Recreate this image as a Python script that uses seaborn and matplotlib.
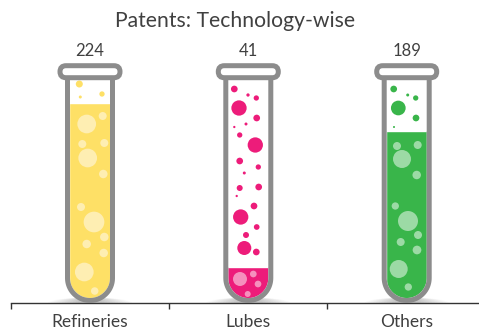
import numpy as np
import pandas as pd
import seaborn as sns
import matplotlib.pyplot as plt
from matplotlib.patches import Ellipse, FancyBboxPatch, PathPatch, Rectangle
from matplotlib.path import Path

# chart data
names = ['Refineries', 'Lubes', 'Others']
values = [224, 41, 189]
fill_levels = [224, 40, 192]  # how far the liquid really reaches in each tube
positions = [90, 248.3, 406.7]
colors = ['#fee066', '#ed1c7a', '#39b54a']
light_colors = ['#feeeb2', '#f590bd', '#9cdaa5']
tick_spots = [11, 169, 327]

# bubbles: x, height above the baseline, diameter (px)
yellow_x = [79.3, 102, 80.3]
yellow_y = [219, 209, 206]
yellow_d = [7, 5.3, 3]
pale_yellow_x = [86.7, 102.7, 82.3, 104.3, 87.7, 103.3, 81, 94, 104.3, 86.7, 103.7, 84.3, 94.7]
pale_yellow_y = [179, 187, 159, 160, 145, 129, 96, 81, 66, 59, 50, 31, 12]
pale_yellow_d = [18.7, 8, 8, 8, 18.7, 8.5, 8, 20.7, 8.5, 8.5, 8.5, 18.7, 7.5]

pink_x = [234.3, 248, 256.3, 239, 256.7, 246, 234.3, 239.7, 255.3, 239.7, 258.3, 244.3, 239.7,
          258.7, 236.7, 254, 240.7, 256.7, 246, 244.3, 256.3]
pink_y = [214, 208, 205, 195, 185, 179, 176, 168, 158, 142, 136, 130, 115, 116, 107, 97, 86,
          76, 68, 55, 51]
pink_d = [6.7, 3.3, 5.3, 15.3, 6.7, 3, 2.3, 5.3, 15.3, 6.7, 5.3, 3, 6, 6.7, 2.3, 6.7, 15.3,
          5.7, 6, 14, 6.7]
pale_pink_x = [240, 253.3, 258, 247.7]
pale_pink_y = [24, 29, 19, 9]
pale_pink_d = [14, 6.7, 6.7, 6]

green_x = [393.7, 407.7, 415.7, 398.3, 416, 394]
green_y = [214, 208, 205, 195, 185, 176]
green_d = [6.7, 3, 5.3, 14.7, 6.7, 2]
pale_green_x = [397, 417.7, 402, 416.7, 395.3, 408, 418, 400.7, 417, 398.7, 408.3]
pale_green_y = [157, 158, 144, 128, 97, 82, 68, 61, 53, 34, 16]
pale_green_d = [8, 8, 18, 8.5, 7.3, 20, 8, 8, 8.7, 18, 7.3]

PX_PER_LEVEL = 0.895
GRAY = '#8c8c8c'
TEXT = '#404040'

sns.set_style('white')
plt.rcParams['font.family'] = ['Lato', 'DejaVu Sans']

fig = plt.figure(figsize=(4.79, 3.31), dpi=100)
ax = fig.add_axes([0, 0, 1, 1])
ax.patch.set_alpha(0)


def tube_path(cx, r, top=223, closed=False):
    # straight sides and a round bottom that sits on the baseline
    t = np.linspace(np.pi, 2 * np.pi, 40)
    xs = np.r_[cx - r, cx + r * np.cos(t), cx + r]
    ys = np.r_[top, 25 + r * np.sin(t), top]
    if closed:
        xs = np.r_[xs, xs[0]]
        ys = np.r_[ys, ys[0]]
    return Path(np.column_stack([xs, ys]))


# liquid
df = pd.DataFrame({'name': names, 'pos': positions, 'height': np.array(fill_levels) * PX_PER_LEVEL})
sns.barplot(data=df, x='pos', y='height', hue='name', palette=colors, native_scale=True,
            width=42 / 158.3, dodge=False, legend=False, saturation=1, ax=ax, zorder=1)
for bar in ax.patches:
    cx = bar.get_x() + bar.get_width() / 2
    bar.set_clip_path(tube_path(cx, 20, closed=True), transform=ax.transData)

# shadows under the tubes, only above the baseline
for cx in positions:
    for w in np.linspace(84, 24, 12):
        e = Ellipse((cx, 0), w, 11, color='black', alpha=0.02, lw=0, zorder=0.5)
        ax.add_patch(e)
        e.set_clip_path(Rectangle((0, 0), 479, 20, transform=ax.transData))

# bubbles
bubble_sets = [
    (yellow_x, yellow_y, yellow_d, colors[0]),
    (pale_yellow_x, pale_yellow_y, pale_yellow_d, light_colors[0]),
    (pink_x, pink_y, pink_d, colors[1]),
    (pale_pink_x, pale_pink_y, pale_pink_d, light_colors[1]),
    (green_x, green_y, green_d, colors[2]),
    (pale_green_x, pale_green_y, pale_green_d, light_colors[2]),
]
for bx, by, bd, c in bubble_sets:
    sns.scatterplot(x=bx, y=by, s=(np.array(bd) * 0.72) ** 2, color=c, linewidth=0, alpha=1,
                    legend=False, ax=ax, zorder=2)

# glass
for cx, name, val in zip(positions, names, values):
    ax.add_patch(PathPatch(tube_path(cx, 22.5), fill=False, edgecolor=GRAY, lw=3.6, zorder=3))
    ax.add_patch(FancyBboxPatch((cx - 30, 225.3), 60, 12, boxstyle='round,pad=0,rounding_size=6',
                                facecolor='white', edgecolor=GRAY, lw=3.6, zorder=4))
    ax.text(cx, 252.5, str(val), ha='center', va='center', fontsize=12, color=TEXT)

ax.set_xlim(0, 479)
ax.set_ylim(-28, 303)
ax.set_xlabel('')
ax.set_ylabel('')
ax.set_yticks([])
ax.set_xticks(tick_spots)
ax.set_xticklabels([])
ax.set_xticks(positions, minor=True)
ax.set_xticklabels(names, minor=True)
ax.tick_params(axis='x', which='major', length=4, width=1, color='#333333', bottom=True, direction='out')
ax.tick_params(axis='x', which='minor', length=0, pad=8, labelsize=12.5, labelcolor=TEXT)
ax.xaxis.get_minor_ticks()[2].set_pad(10)

sns.despine(ax=ax, left=True, top=True, right=True)
ax.spines['bottom'].set_position(('data', 0))
ax.spines['bottom'].set_bounds(11, 479)
ax.spines['bottom'].set_color('#333333')
ax.spines['bottom'].set_linewidth(1)

ax.text(235.5, 282, 'Patents: Technology-wise', ha='center', va='center', fontsize=15.2, color=TEXT)

fig.savefig('out.png', dpi=100)
